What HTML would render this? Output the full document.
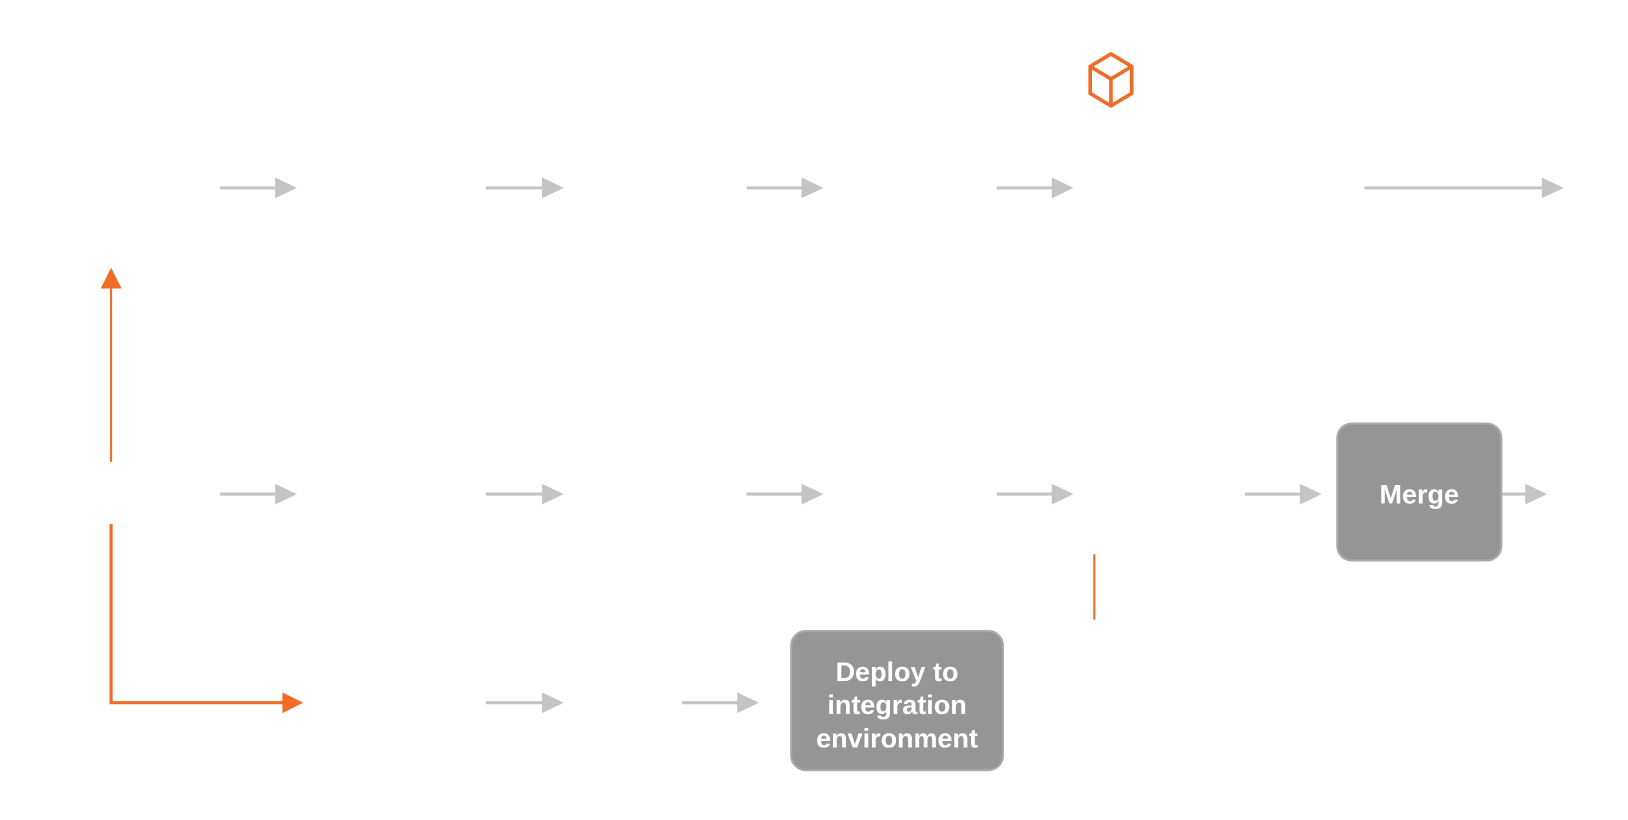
<!DOCTYPE html>
<html><head><meta charset="utf-8"><style>
html,body{margin:0;padding:0;background:#fff;width:1628px;height:820px;overflow:hidden}
svg{display:block}
text{font-family:"Liberation Sans","DejaVu Sans",sans-serif;fill:#fff;font-weight:bold}
</style></head><body>
<svg width="1628" height="820" viewBox="0 0 1568 790" preserveAspectRatio="none">
<g id="gray" stroke="#c4c4c4" fill="#c4c4c4"></g>
<g>
<line x1="107" y1="445" x2="107" y2="276" stroke="#ee6c25" stroke-width="2"/>
<polygon points="107,258 97,278 117,278" fill="#ee6c25"/>
<polyline points="107,505 107,677 274,677" fill="none" stroke="#ee6c25" stroke-width="3"/>
<polygon points="292,677 272,667 272,687" fill="#ee6c25"/>
<line x1="1054" y1="534" x2="1054" y2="597" stroke="#ee6c25" stroke-width="2"/>
</g>
<g fill="none" stroke="#ee6c25" stroke-width="3.5" stroke-linejoin="round">
<polygon points="1070,52 1090,64 1090,90 1070,102 1050,90 1050,64"/>
<polyline points="1050,64 1070,76 1090,64"/>
<line x1="1070" y1="76" x2="1070" y2="102"/>
</g>
<g>
<rect x="1288" y="408" width="158" height="132" rx="14" fill="#959595" stroke="#aaaaaa" stroke-width="2"/>
<text x="1367" y="485" font-size="26" text-anchor="middle">Merge</text>
</g>
<g>
<rect x="762" y="608" width="204" height="134" rx="14" fill="#959595" stroke="#aaaaaa" stroke-width="2"/>
<text x="864" y="656" font-size="26" text-anchor="middle">Deploy to</text>
<text x="864" y="688" font-size="26" text-anchor="middle">integration</text>
<text x="864" y="720" font-size="26" text-anchor="middle">environment</text>
</g>
</svg>
<script>
const arrowStarts=[212,468,719,960,1314, 212,468,719,960,1199,1446, 468,657];
const arrowEnds=[286,543,793,1034,1506, 286,543,793,1034,1273,1490, 543,731];
const arrowRows=[181,181,181,181,181, 476,476,476,476,476,476, 677,677];
const g=document.getElementById('gray');
const ns='http://www.w3.org/2000/svg';
arrowStarts.forEach((x1,i)=>{
  const x2=arrowEnds[i], y=arrowRows[i];
  const l=document.createElementNS(ns,'line');
  l.setAttribute('x1',x1);l.setAttribute('x2',x2-18);l.setAttribute('y1',y);l.setAttribute('y2',y);
  l.setAttribute('stroke-width','3');
  
  
  g.appendChild(l);
  const p=document.createElementNS(ns,'polygon');
  p.setAttribute('points',`${x2},${y} ${x2-21},${y-10} ${x2-21},${y+10}`);
  p.setAttribute('stroke','none');
  
  
  g.appendChild(p);
});
</script>
</body></html>
